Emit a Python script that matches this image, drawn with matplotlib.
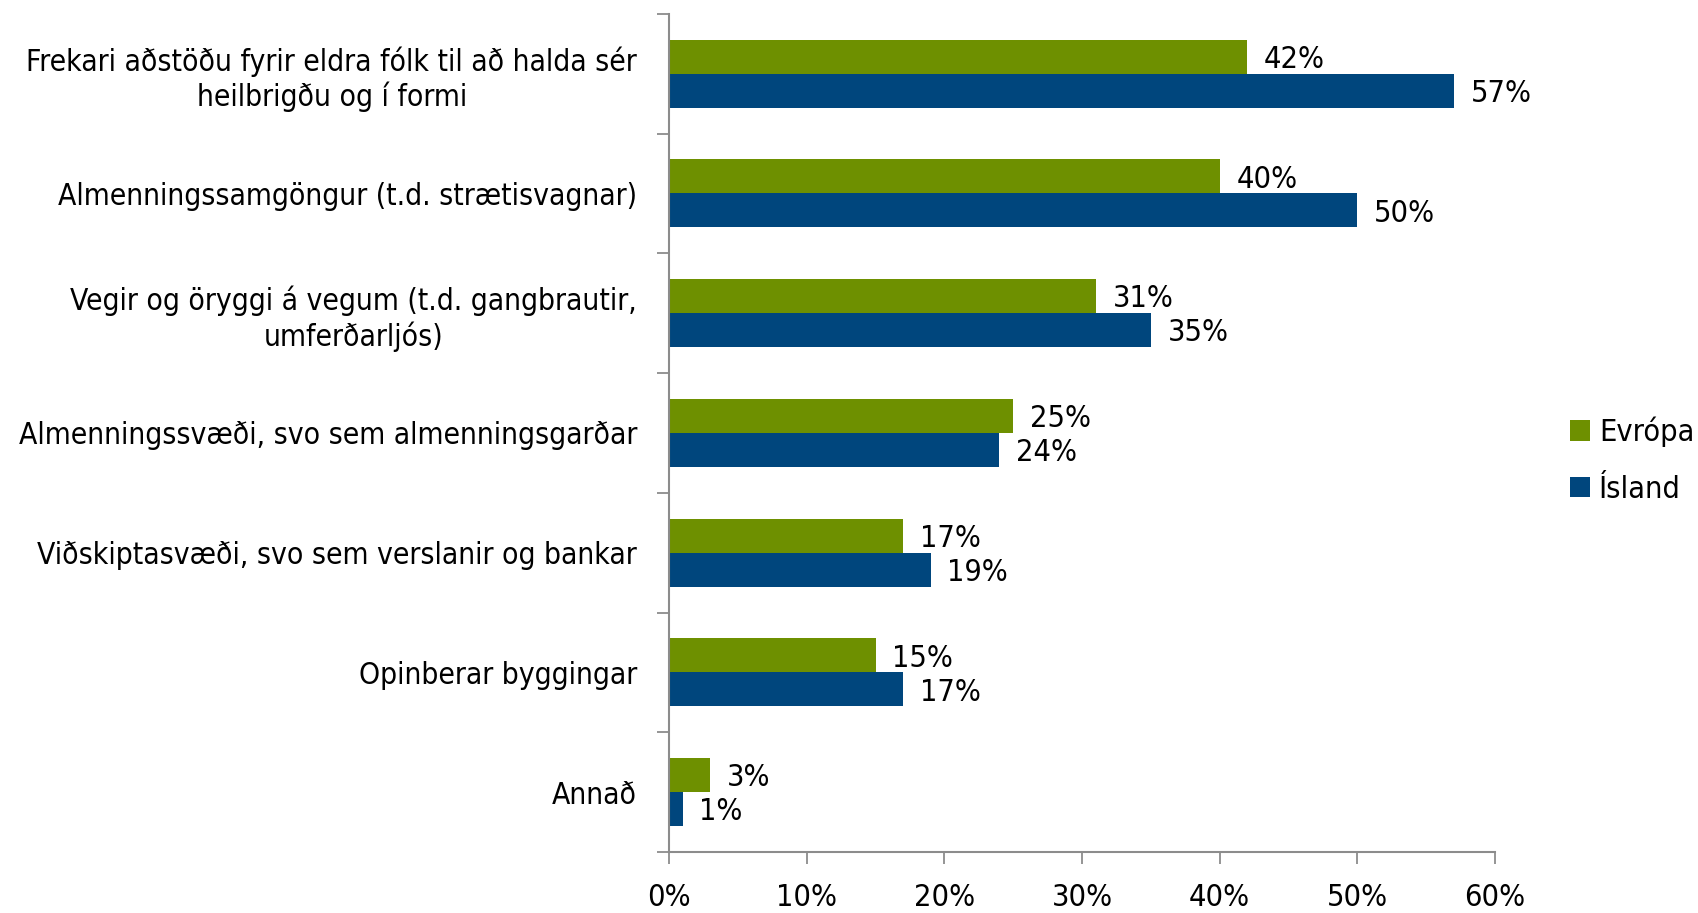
import matplotlib
matplotlib.use("Agg")
import matplotlib.pyplot as plt
from matplotlib import font_manager
import numpy as np

categories = [
    "Frekari aðstöðu fyrir eldra fólk til að halda sér\nheilbrigðu og í formi",
    "Almenningssamgöngur (t.d. strætisvagnar)",
    "Vegir og öryggi á vegum (t.d. gangbrautir,\numferðarljós)",
    "Almenningssvæði, svo sem almenningsgarðar",
    "Viðskiptasvæði, svo sem verslanir og bankar",
    "Opinberar byggingar",
    "Annað",
]
evropa = [42, 40, 31, 25, 17, 15, 3]
island = [57, 50, 35, 24, 19, 17, 1]
xticks = [0, 10, 20, 30, 40, 50, 60]

# look for a narrow face, the original uses Arial Narrow
narrow = None
for f in font_manager.fontManager.ttflist:
    name = f.name + " " + str(f.fname)
    if ("Narrow" in name or "Condensed" in name) and "Bold" not in name and "Oblique" not in name and "Italic" not in name:
        narrow = f
        break

fs = 22
fs_cat = 21.5
stretch = "normal"
if narrow is not None:
    family = narrow.name
    stretch = narrow.stretch
else:
    family = "Liberation Sans"
    fs = 20
    fs_cat = 19
plt.rcParams["font.family"] = [family, "DejaVu Sans"]
plt.rcParams["font.stretch"] = stretch

green = "#6E9000"
blue = "#00467D"
grey = "#8C8C8C"

fig = plt.figure(figsize=(16.98, 9.13), dpi=100)
ax = fig.add_axes([0.394, 0.0668, 0.4865, 0.918])

y = np.arange(len(categories))
h = 0.284
ax.barh(y - h / 2, evropa, height=h, color=green, label="Evrópa")
ax.barh(y + h / 2, island, height=h, color=blue, label="Ísland")

for yi, v in zip(y, evropa):
    ax.annotate(f"{v}%", (v, yi - h / 2), xytext=(12, -2), textcoords="offset points",
                va="center", ha="left", fontsize=fs)
for yi, v in zip(y, island):
    ax.annotate(f"{v}%", (v, yi + h / 2), xytext=(12, -2), textcoords="offset points",
                va="center", ha="left", fontsize=fs)

ax.set_xlim(0, 60)
ax.set_ylim(len(categories) - 0.5, -0.5)
ax.set_xticks(xticks)
ax.set_xticklabels([f"{t}%" for t in xticks], fontsize=fs)

# category boundaries as ticks, names at the centres
ax.set_yticks(np.arange(-0.5, len(categories), 1.0))
ax.set_yticklabels([])
ax.set_yticks(y, minor=True)
ax.set_yticklabels(categories, minor=True, fontsize=fs_cat, ha="right", multialignment="center")
ax.tick_params(axis="y", which="minor", length=0, pad=23)
ax.tick_params(axis="y", which="major", length=8.5, width=1.3, color=grey, direction="out")
ax.tick_params(axis="x", length=8.5, width=1.3, color=grey, direction="out", pad=14)

for s in ["top", "right"]:
    ax.spines[s].set_visible(False)
for s in ["left", "bottom"]:
    ax.spines[s].set_color(grey)
    ax.spines[s].set_linewidth(1.5)

fig.legend(loc="center left", bbox_to_anchor=(0.9245, 0.496), frameon=False, fontsize=fs,
           handlelength=0.65, handleheight=0.65, handletextpad=0.3, labelspacing=0.9,
           borderaxespad=0, borderpad=0)

fig.savefig("out.png", dpi=100)
